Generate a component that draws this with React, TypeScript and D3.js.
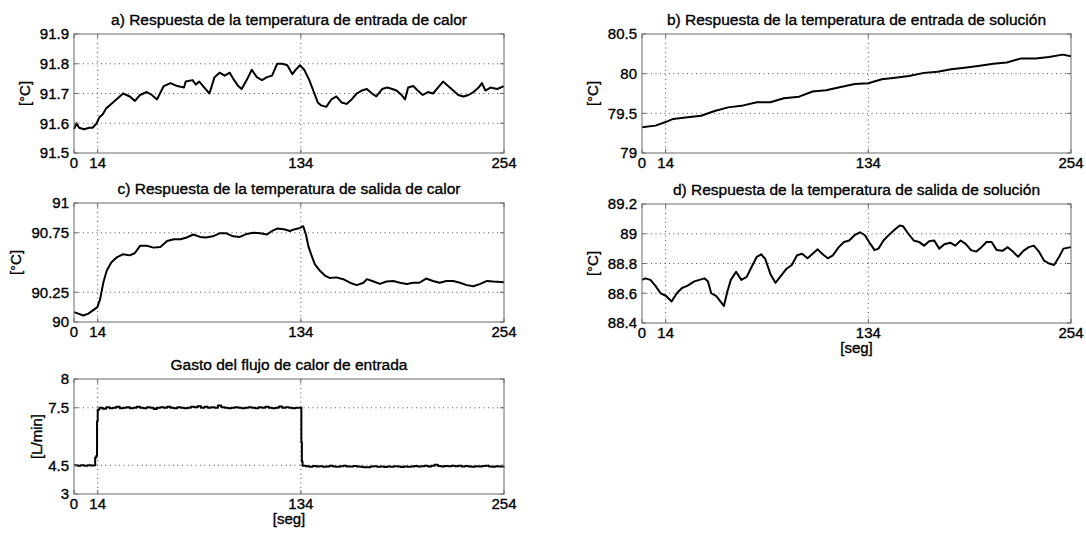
import React from "react";
import * as d3 from "d3";

// Time axis shared by every panel
const xTickValues = [0, 14, 134, 254];

// a) Respuesta de la temperatura de entrada de calor
const tA = [0, 1.5, 3, 6, 9, 11, 13.4, 15, 17, 19, 22, 25, 29, 33, 36, 39, 43, 46, 49, 53, 57, 61, 65, 66, 70, 72, 74, 77, 80, 83, 86, 89, 92, 94, 97, 99, 102, 105, 108, 111, 114, 117, 120, 123, 126, 129, 131, 133.5, 136, 139, 142, 144, 146, 149, 152, 155, 158, 161, 164, 167, 170, 173, 176, 178.6, 182, 185, 188, 190.5, 193.5, 195.5, 197.4, 200.4, 203, 206, 209, 212, 215, 218, 221, 224, 227, 230, 233, 236, 239, 241, 243, 246, 250, 254];
const vA = [91.58, 91.6, 91.585, 91.58, 91.585, 91.585, 91.6, 91.62, 91.63, 91.65, 91.665, 91.68, 91.7, 91.69, 91.675, 91.695, 91.705, 91.695, 91.68, 91.725, 91.735, 91.725, 91.72, 91.74, 91.745, 91.73, 91.74, 91.72, 91.7, 91.755, 91.77, 91.76, 91.77, 91.75, 91.725, 91.715, 91.745, 91.78, 91.755, 91.745, 91.755, 91.76, 91.8, 91.8, 91.795, 91.765, 91.78, 91.795, 91.78, 91.745, 91.7, 91.67, 91.66, 91.655, 91.68, 91.69, 91.67, 91.665, 91.68, 91.7, 91.71, 91.715, 91.7, 91.69, 91.715, 91.72, 91.715, 91.71, 91.695, 91.68, 91.72, 91.725, 91.71, 91.695, 91.705, 91.7, 91.72, 91.74, 91.725, 91.71, 91.695, 91.69, 91.695, 91.705, 91.72, 91.735, 91.71, 91.72, 91.715, 91.725];
const yTicksA = [91.5, 91.6, 91.7, 91.8, 91.9];
const yLabelsA = ["91.5", "91.6", "91.7", "91.8", "91.9"];

// b) Respuesta de la temperatura de entrada de solución
const tB = [0, 8, 14, 18.5, 27, 35, 43, 51, 60, 68, 76, 84, 93, 101, 109, 117, 126, 134, 142, 150, 158, 167, 175, 183, 191, 200, 208, 216, 224, 233, 241, 249, 254];
const vB = [79.325, 79.345, 79.39, 79.43, 79.45, 79.47, 79.53, 79.575, 79.6, 79.64, 79.64, 79.69, 79.71, 79.775, 79.79, 79.83, 79.87, 79.88, 79.93, 79.95, 79.97, 80.01, 80.025, 80.055, 80.075, 80.1, 80.125, 80.14, 80.19, 80.19, 80.21, 80.24, 80.22];
const yTicksB = [79, 79.5, 80, 80.5];
const yLabelsB = ["79", "79.5", "80", "80.5"];

// c) Respuesta de la temperatura de salida de calor
const tC = [0, 2.5, 5.5, 8.5, 11.4, 13.8, 15.4, 17.3, 19.3, 22, 25, 29, 33, 36, 39, 43, 47, 51, 55, 59, 63, 66.5, 70.5, 74.4, 78, 82, 86, 90, 94, 98, 102, 106, 110, 114, 117, 120, 124, 127.5, 130.5, 133.5, 135.4, 137, 138.4, 140.4, 142.3, 145.3, 148.2, 151, 155, 159, 163, 167, 171, 173, 177, 180.7, 184.6, 188.6, 192.5, 196.5, 200.4, 204, 208, 212, 216, 220, 224, 228, 232, 236, 240, 244, 247.6, 254];
const vC = [90.083, 90.07, 90.055, 90.07, 90.1, 90.125, 90.19, 90.33, 90.43, 90.5, 90.54, 90.57, 90.56, 90.58, 90.64, 90.64, 90.625, 90.63, 90.68, 90.695, 90.695, 90.71, 90.735, 90.715, 90.71, 90.72, 90.745, 90.745, 90.72, 90.715, 90.74, 90.75, 90.745, 90.735, 90.765, 90.785, 90.78, 90.765, 90.78, 90.79, 90.805, 90.735, 90.64, 90.555, 90.485, 90.43, 90.39, 90.37, 90.375, 90.36, 90.33, 90.31, 90.33, 90.36, 90.34, 90.32, 90.34, 90.345, 90.33, 90.32, 90.33, 90.33, 90.365, 90.345, 90.33, 90.345, 90.345, 90.33, 90.31, 90.3, 90.32, 90.345, 90.34, 90.335];
const yTicksC = [90, 90.25, 90.75, 91];
const yLabelsC = ["90", "90.25", "90.75", "91"];

// d) Respuesta de la temperatura de salida de solución
const tD = [0, 2, 5, 8, 11, 14.4, 17.5, 20.6, 23.7, 26.8, 31, 34, 37, 39, 41, 44, 46.4, 48.5, 50.5, 52.6, 55.7, 58.8, 62, 65, 68, 70.5, 73, 76, 79, 82.5, 85.6, 88.7, 91.8, 94.8, 98, 101, 104, 107, 110, 113, 116.5, 119.6, 122.7, 125.8, 129, 132, 135, 137.7, 140, 143, 146, 149.5, 152.6, 154.6, 157.7, 160.8, 164, 167, 170, 173, 176, 179, 182.5, 185.5, 188.7, 191.8, 194.8, 198, 201, 204, 207, 210, 213.4, 216.5, 219.6, 222.7, 225.8, 229, 232, 235, 238, 241, 244, 247, 249.5, 254];
const vD = [88.69, 88.7, 88.69, 88.65, 88.6, 88.58, 88.545, 88.6, 88.635, 88.65, 88.68, 88.69, 88.7, 88.68, 88.6, 88.58, 88.545, 88.515, 88.61, 88.69, 88.745, 88.69, 88.71, 88.78, 88.845, 88.862, 88.83, 88.73, 88.67, 88.72, 88.765, 88.79, 88.855, 88.865, 88.835, 88.865, 88.895, 88.862, 88.835, 88.855, 88.91, 88.945, 88.955, 88.99, 89.01, 88.99, 88.935, 88.89, 88.9, 88.955, 88.99, 89.027, 89.055, 89.05, 89.0, 88.955, 88.945, 88.92, 88.95, 88.955, 88.9, 88.93, 88.94, 88.92, 88.955, 88.93, 88.89, 88.88, 88.91, 88.945, 88.945, 88.89, 88.885, 88.91, 88.88, 88.845, 88.885, 88.91, 88.92, 88.88, 88.82, 88.8, 88.79, 88.845, 88.9, 88.91];
const yTicksD = [88.4, 88.6, 88.8, 89, 89.2];
const yLabelsD = ["88.4", "88.6", "88.8", "89", "89.2"];

// Gasto del flujo de calor de entrada
const tE = [0, 2, 4, 6, 8, 10, 12, 12.5, 13.2, 13.6, 14, 15, 17, 19, 21, 23, 25, 27, 29, 31, 33, 35, 37, 39, 41, 43, 45, 47, 49, 51, 53, 55, 57, 59, 61, 63, 65, 67, 69, 71, 73, 75, 77, 79, 81, 83, 85, 87, 89, 91, 93, 95, 97, 99, 101, 103, 105, 107, 109, 111, 113, 115, 117, 119, 121, 123, 125, 127, 129, 131, 133, 134, 134.3, 134.6, 135, 137, 139, 141, 143, 145, 147, 149, 151, 153, 155, 157, 159, 161, 163, 165, 167, 169, 171, 173, 175, 177, 179, 181, 183, 185, 187, 189, 191, 193, 195, 197, 199, 201, 203, 205, 207, 209, 211, 213, 215, 217, 219, 221, 223, 225, 227, 229, 231, 233, 235, 237, 239, 241, 243, 245, 247, 249, 251, 254];
const vE = [4.5, 4.47, 4.5, 4.48, 4.5, 4.49, 4.5, 4.9, 5.0, 6.8, 7.4, 7.5, 7.45, 7.52, 7.48, 7.5, 7.55, 7.48, 7.5, 7.52, 7.47, 7.5, 7.55, 7.5, 7.47, 7.52, 7.5, 7.43, 7.5, 7.52, 7.5, 7.55, 7.5, 7.48, 7.52, 7.5, 7.48, 7.5, 7.55, 7.52, 7.58, 7.5, 7.55, 7.5, 7.52, 7.5, 7.62, 7.52, 7.5, 7.48, 7.5, 7.52, 7.5, 7.48, 7.5, 7.52, 7.5, 7.48, 7.52, 7.5, 7.55, 7.5, 7.48, 7.5, 7.56, 7.5, 7.52, 7.5, 7.48, 7.5, 7.5, 7.5, 5.7, 4.7, 4.48, 4.45, 4.42, 4.46, 4.43, 4.45, 4.42, 4.44, 4.47, 4.44, 4.42, 4.45, 4.48, 4.44, 4.43, 4.46, 4.44, 4.42, 4.4, 4.4, 4.43, 4.45, 4.42, 4.43, 4.41, 4.44, 4.42, 4.45, 4.43, 4.41, 4.44, 4.42, 4.43, 4.46, 4.44, 4.45, 4.47, 4.44, 4.48, 4.52, 4.46, 4.44, 4.46, 4.45, 4.48, 4.45, 4.47, 4.43, 4.46, 4.44, 4.42, 4.45, 4.43, 4.46, 4.48, 4.44, 4.42, 4.45, 4.43, 4.45];
const yTicksE = [3, 4.5, 7.5, 9];
const yLabelsE = ["3", "4.5", "7.5", "8"];

const FONT = "'Liberation Sans', Arial, Helvetica, sans-serif";

type PanelProps = {
  left: number;
  top: number;
  width: number;
  height: number;
  title: string;
  ylabel: string;
  ylabelX: number;
  xlabel?: string;
  domain: [number, number];
  yTicks: number[];
  yLabels: string[];
  t: number[];
  v: number[];
  stepped?: boolean;
};

// Slightly heavier text, like the print of the original figure
const textStroke = { stroke: "#000", strokeWidth: 0.35 };

function Panel(p: PanelProps) {
  const x = d3.scaleLinear().domain([0, 254]).range([p.left, p.left + p.width]);
  const y = d3.scaleLinear().domain(p.domain).range([p.top + p.height, p.top]);
  const pts: [number, number][] = p.t.map((tt, i) => [tt, p.v[i]]);
  const line = d3
    .line<[number, number]>()
    .x((d) => x(d[0]))
    .y((d) => y(d[1]))
    .curve(p.stepped ? d3.curveStepAfter : d3.curveLinear);
  const right = p.left + p.width;
  const bottom = p.top + p.height;
  const tickLen = 4;
  const gridColor = "#555";
  const axisColor = "#6a6a6a";
  const innerY = p.yTicks.filter((v) => v > p.domain[0] && v < p.domain[1]);
  const innerX = xTickValues.filter((v) => v > 0 && v < 254);
  return (
    <g fontFamily={FONT} fill="#000">
      {innerY.map((v) => (
        <line key={"gy" + v} x1={p.left} x2={right} y1={y(v)} y2={y(v)} stroke={gridColor} strokeWidth={1} strokeDasharray="1 3.5" />
      ))}
      {innerX.map((v) => (
        <line key={"gx" + v} x1={x(v)} x2={x(v)} y1={p.top} y2={bottom} stroke={gridColor} strokeWidth={1} strokeDasharray="1 3.5" />
      ))}
      <path d={line(pts) || ""} fill="none" stroke="#000" strokeWidth={2} strokeLinejoin="round" />
      <rect x={p.left} y={p.top} width={p.width} height={p.height} fill="none" stroke={axisColor} strokeWidth={1} />
      {p.yTicks.map((v) => (
        <g key={"ty" + v}>
          <line x1={p.left} x2={p.left + tickLen} y1={y(v)} y2={y(v)} stroke={axisColor} />
          <line x1={right - tickLen} x2={right} y1={y(v)} y2={y(v)} stroke={axisColor} />
        </g>
      ))}
      {xTickValues.map((v) => (
        <g key={"tx" + v}>
          <line x1={x(v)} x2={x(v)} y1={bottom - tickLen} y2={bottom} stroke={axisColor} />
          <line x1={x(v)} x2={x(v)} y1={p.top} y2={p.top + tickLen} stroke={axisColor} />
        </g>
      ))}
      {p.yTicks.map((v, i) => (
        <text key={"ly" + v} x={p.left - 5} y={y(v)} dy="0.36em" textAnchor="end" fontSize={15} {...textStroke}>
          {p.yLabels[i]}
        </text>
      ))}
      {xTickValues.map((v) => (
        <text key={"lx" + v} x={x(v)} y={bottom + 15} textAnchor="middle" fontSize={15} {...textStroke}>
          {String(v)}
        </text>
      ))}
      <text x={p.left + p.width / 2} y={p.top - 9} textAnchor="middle" fontSize={15.5} {...textStroke}>
        {p.title}
      </text>
      <text
        transform={`translate(${p.ylabelX},${p.top + p.height / 2}) rotate(-90)`}
        textAnchor="middle"
        dy="0.35em"
        fontSize={15}
        {...textStroke}
      >
        {p.ylabel}
      </text>
      {p.xlabel && (
        <text x={p.left + p.width / 2} y={bottom + 30} textAnchor="middle" fontSize={15} {...textStroke}>
          {p.xlabel}
        </text>
      )}
    </g>
  );
}

export default function App() {
  return (
    <svg
      width={1086}
      height={533}
      style={{ position: "absolute", left: 0, top: 0, background: "#fff" }}
    >
      <rect x={0} y={0} width={1086} height={533} fill="#fff" />
      <Panel left={74} top={34} width={430} height={119} title="a) Respuesta de la temperatura de entrada de calor" ylabel="[°C]" ylabelX={25} domain={[91.5, 91.9]} yTicks={yTicksA} yLabels={yLabelsA} t={tA} v={vA} />
      <Panel left={642} top={34} width={429} height={119} title="b) Respuesta de la temperatura de entrada de solución" ylabel="[°C]" ylabelX={593} domain={[79, 80.5]} yTicks={yTicksB} yLabels={yLabelsB} t={tB} v={vB} />
      <Panel left={74} top={203} width={430} height={119} title="c) Respuesta de la temperatura de salida de calor" ylabel="[°C]" ylabelX={16} domain={[90, 91]} yTicks={yTicksC} yLabels={yLabelsC} t={tC} v={vC} />
      <Panel left={642} top={204} width={429} height={119} title="d) Respuesta de la temperatura de salida de solución" ylabel="[°C]" ylabelX={593} xlabel="[seg]" domain={[88.4, 89.2]} yTicks={yTicksD} yLabels={yLabelsD} t={tD} v={vD} />
      <Panel left={74} top={379} width={430} height={115} title="Gasto del flujo de calor de entrada" ylabel="[L/min]" ylabelX={37} xlabel="[seg]" domain={[3, 9]} yTicks={yTicksE} yLabels={yLabelsE} t={tE} v={vE} stepped />
    </svg>
  );
}
